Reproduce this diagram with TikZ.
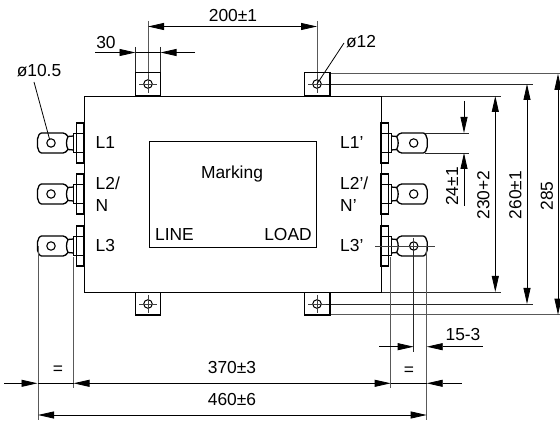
\documentclass[tikz,border=0pt]{standalone}
\usepackage{fontspec}
\setmainfont{Liberation Sans}
\usetikzlibrary{arrows.meta}
\tikzset{
  x=1pt,y=-1pt,
  outline/.style={draw=black,line width=1.3pt},
  thinline/.style={draw=black!85,line width=0.8pt},
  extline/.style={draw=black!65,line width=1pt},
  centerline/.style={draw=black!75,line width=0.7pt},
  dim/.style={draw=black,line width=0.8pt},
  tipR/.style={-{Triangle[length=16pt,width=7pt]}},
  tipL/.style={{Triangle[length=16pt,width=7pt]}-},
  tipB/.style={{Triangle[length=16pt,width=7pt]}-{Triangle[length=16pt,width=7pt]}},
  lbl/.style={inner sep=0pt,font=\fontsize{17.4}{19}\selectfont},
  dimtxt/.style={inner sep=0pt,font=\fontsize{17.4}{19}\selectfont},
  mount/.pic={
    \draw[line width=1pt] (0,0) circle (4.3);
    \draw[centerline] (-9,0) -- (9,0) (0,-9) -- (0,9);
  },
  lug/.pic={
    % lug drawn for the left side, centre of hole at origin
    \draw[outline] (-9.5,-10) -- (12,-10) .. controls (14,-10) and (15.5,-8.5) .. (17,-6.5)
       .. controls (15,-2) and (15,2) .. (17,6.5)
       .. controls (15.5,8.5) and (14,10) .. (12,10) -- (-9.5,10)
       .. controls (-11,10) and (-13.5,7) .. (-13.5,4) -- (-13.5,-4)
       .. controls (-13.5,-7) and (-11,-10) .. (-9.5,-10) -- cycle;
    \draw[outline] (17,-6.5) -- (22.5,-7) (17,6.5) -- (22.5,7);
    \draw[line width=1.1pt] (0,0) circle (4.2);
    \draw[outline] (22.5,-9.5) rectangle (25.5,9.5);
    \draw[outline] (25.5,-20) rectangle (33,20);
    \draw[outline] (25.5,-9.5) -- (33,-9.5) (25.5,9.5) -- (33,9.5);
  }
}
\begin{document}
\begin{tikzpicture}
\useasboundingbox (0,0) rectangle (560,422);
\fill[white] (0,0) rectangle (560,422);

% named reference points
\coordinate (tlc) at (148,84);
\coordinate (trc) at (317,84);
\coordinate (blc) at (148,304);
\coordinate (brc) at (317,304);
\coordinate (hole3) at (413.7,246);

% extension lines, under the body
\coordinate (e200a) at (148,21);
\coordinate (e200b) at (317,21);
\draw[extline] (e200a) -- (tlc);
\draw[extline] (e200b) -- (trc);
\coordinate (e30a) at (135.5,47);
\coordinate (e30b) at (160.5,47);
\draw[thinline] (e30a) -- (135.5,73.5);
\draw[thinline] (e30b) -- (160.5,73.5);

\draw[extline] (330,73.8) -- (560,73.8);
\draw[thinline] (trc) -- (532.7,84);
\draw[thinline] (381,96) -- (500.7,96);
\draw[thinline] (381,292) -- (500.7,292);
\draw[thinline] (brc) -- (532.7,304);
\draw[extline] (330,314.7) -- (560,314.7);

% body and tabs
\node[outline,minimum width=297pt,minimum height=196pt,inner sep=0pt,anchor=north west] (body) at (84,96) {};
\node[outline,minimum width=25pt,minimum height=22.5pt,inner sep=0pt,anchor=south] (tabTL) at (148,96) {};
\node[outline,minimum width=25.5pt,minimum height=22.5pt,inner sep=0pt,anchor=south] (tabTR) at (317.2,96) {};
\node[outline,minimum width=25pt,minimum height=22.5pt,inner sep=0pt,anchor=north] (tabBL) at (148,292) {};
\node[outline,minimum width=25.5pt,minimum height=22.5pt,inner sep=0pt,anchor=north] (tabBR) at (317.2,292) {};
\pic at (tlc) {mount};
\pic at (trc) {mount};
\pic at (blc) {mount};
\pic at (brc) {mount};

% marking panel
\node[draw=black,line width=0.9pt,minimum width=167pt,minimum height=106pt,inner sep=0pt,anchor=north west] (panel) at (149,141) {};
\node[lbl] (marking) at (232,174) {Marking};
\node[lbl] (line) at (174.5,234.5) {LINE};
\node[lbl] (load) at (288,234.5) {LOAD};

% terminals
\pic at (51,143) {lug};
\pic at (51,194) {lug};
\pic at (51,246) {lug};
\pic[xscale=-1] at (413.7,143) {lug};
\pic[xscale=-1] at (413.7,194) {lug};
\pic[xscale=-1] at (413.7,246) {lug};

\node[lbl,anchor=west] (l1) at (95.5,143) {L1};
\node[lbl,anchor=west] (l2) at (95.5,183) {L2/};
\node[lbl,anchor=west] (n) at (95.5,205.5) {N};
\node[lbl,anchor=west] (l3) at (95.5,246) {L3};
\node[lbl,anchor=west] (l1p) at (340,143) {L1’};
\node[lbl,anchor=west] (l2p) at (340,183) {L2’/};
\node[lbl,anchor=west] (np) at (340,205.5) {N’};
\node[lbl,anchor=west] (l3p) at (340,246) {L3’};

% dimension 200
\coordinate (d200a) at (148,26.5);
\coordinate (d200b) at (317,26.5);
\draw[dim,tipB] (d200a) -- (d200b);
\node[dimtxt] (t200) at (233,16) {200±1};

% dimension 30
\coordinate (d30a) at (95,52.5);
\coordinate (d30b) at (135.5,52.5);
\coordinate (d30c) at (160.5,52.5);
\coordinate (d30d) at (195,52.5);
\draw[dim,tipR] (d30a) -- (d30b);
\draw[dim] (d30b) -- (d30c);
\draw[dim,tipR] (d30d) -- (d30c);
\node[dimtxt] (t30) at (106,42.5) {30};

% diameters
\node[dimtxt] (t105) at (39,71) {ø10.5};
\coordinate (lead1) at (49.5,139);
\draw[dim] (34,82) -- (lead1);
\node[dimtxt] (t12) at (361,42) {ø12};
\draw[dim] (344,43) -- (trc);

% vertical dimensions right
\coordinate (d230a) at (495.3,96);
\coordinate (d230b) at (495.3,292);
\draw[dim,tipB] (d230a) -- (d230b);
\node[dimtxt,rotate=90] (t230) at (483.5,195) {230+2};
\coordinate (d260a) at (527,84);
\coordinate (d260b) at (527,304);
\draw[dim,tipB] (d260a) -- (d260b);
\node[dimtxt,rotate=90] (t260) at (515.5,195) {260±1};
\coordinate (d285a) at (558,73.8);
\coordinate (d285b) at (558,314.7);
\draw[dim,tipB] (d285a) -- (d285b);
\node[dimtxt,rotate=90] (t285) at (547,196) {285};

% dimension 24
\draw[thinline] (425,133) -- (469,133);
\draw[thinline] (425,153) -- (469,153);
\coordinate (d24a) at (464,101);
\coordinate (d24b) at (464,133);
\coordinate (d24c) at (464,153);
\coordinate (d24d) at (464,205.7);
\draw[dim,tipR] (d24a) -- (d24b);
\draw[dim,tipR] (d24d) -- (d24c);
\node[dimtxt,rotate=90] (t24) at (452,186.5) {24±1};

% extension lines from L3 terminals
\draw[extline] (38,246) -- (38,420);
\draw[extline] (73.5,257) -- (73.5,388);
\draw[extline] (390.7,257) -- (390.7,388);
\draw[thinline] (hole3) -- (413.7,351.5);
\draw[extline] (426.7,246) -- (426.7,420);
\draw[centerline] (375,246) -- (435,246);
\draw[centerline] (413.7,238) -- (413.7,246);

% dimension 15-3
\coordinate (d15a) at (379,346.7);
\coordinate (d15b) at (413.7,346.7);
\coordinate (d15c) at (426.7,346.7);
\coordinate (d15d) at (482.7,346.7);
\draw[dim,tipR] (d15a) -- (d15b);
\draw[dim,tipR] (d15d) -- (d15c);
\node[dimtxt] (t15) at (463,335) {15-3};

% dimension 370
\coordinate (d370a) at (4,383.3);
\coordinate (d370b) at (37.5,383.3);
\coordinate (d370c) at (73.5,383.3);
\coordinate (d370d) at (390.7,383.3);
\coordinate (d370e) at (426.7,383.3);
\coordinate (d370f) at (461.7,383.3);
\draw[dim,tipR] (d370a) -- (d370b);
\draw[dim] (d370b) -- (d370c);
\draw[dim,tipB] (d370c) -- (d370d);
\draw[dim] (d370d) -- (d370e);
\draw[dim,tipR] (d370f) -- (d370e);
\node[dimtxt] (eq1) at (58,370) {=};
\node[dimtxt] (t370) at (232,368) {370±3};
\node[dimtxt] (eq2) at (409,371) {=};

% dimension 460
\coordinate (d460a) at (38,415);
\coordinate (d460b) at (426.7,415);
\draw[dim,tipB] (d460a) -- (d460b);
\node[dimtxt] (t460) at (232,400) {460±6};
\end{tikzpicture}
\end{document}
